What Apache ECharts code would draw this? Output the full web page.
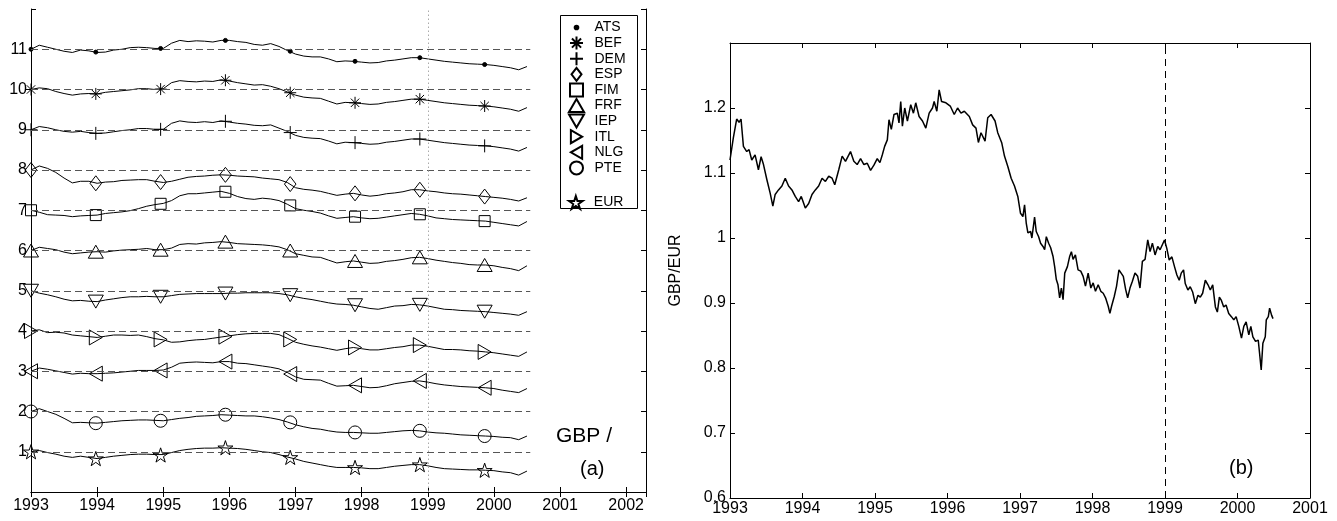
<!DOCTYPE html>
<html>
<head>
<meta charset="utf-8">
<script src="https://cdn.jsdelivr.net/npm/echarts@6/dist/echarts.min.js"></script>
<style>
  html, body { margin: 0; padding: 0; background: #fff; }
  #chart { width: 1337px; height: 521px; }
</style>
</head>
<body>
<div id="chart"></div>
<script>
// ---- data ----
const leftYears = [1993,1993.125,1993.25,1993.375,1993.5,1993.625,1993.75,1993.875,
  1994,1994.125,1994.25,1994.375,1994.5,1994.625,1994.75,1994.875,
  1995,1995.125,1995.25,1995.375,1995.5,1995.625,1995.75,1995.875,
  1996,1996.125,1996.25,1996.375,1996.5,1996.625,1996.75,1996.875,
  1997,1997.125,1997.25,1997.375,1997.5,1997.625,1997.75,1997.875,
  1998,1998.125,1998.25,1998.375,1998.5,1998.625,1998.75,1998.875,
  1999,1999.125,1999.25,1999.375,1999.5,1999.625,1999.75,1999.875,
  2000,2000.125,2000.25,2000.375,2000.5];

const ats = [11.00,11.10,11.05,11.00,10.95,10.92,10.98,10.96,
  10.92,10.93,10.98,11.00,11.04,11.05,11.04,11.02,
  11.02,11.15,11.22,11.19,11.21,11.20,11.18,11.22,
  11.22,11.19,11.17,11.12,11.10,11.14,11.07,10.97,
  10.88,10.83,10.81,10.81,10.76,10.69,10.71,10.70,
  10.68,10.66,10.67,10.71,10.73,10.76,10.79,10.79,
  10.76,10.73,10.70,10.68,10.66,10.64,10.63,10.62,
  10.60,10.57,10.54,10.49,10.57];
const bef = [10.00,10.04,10.02,9.95,9.90,9.86,9.89,9.90,
  9.89,9.93,9.95,9.97,9.99,10.02,10.02,10.00,
  10.02,10.17,10.22,10.20,10.19,10.21,10.20,10.24,
  10.21,10.17,10.14,10.11,10.12,10.08,10.02,9.94,
  9.86,9.81,9.79,9.78,9.71,9.64,9.68,9.67,
  9.65,9.63,9.64,9.68,9.70,9.73,9.76,9.76,
  9.73,9.70,9.67,9.65,9.63,9.61,9.60,9.59,
  9.57,9.54,9.51,9.46,9.55];
const dem = [9.00,9.08,9.05,9.00,8.96,8.94,8.96,8.93,
  8.91,8.92,8.95,8.98,9.00,9.03,9.03,9.01,
  9.01,9.16,9.22,9.19,9.18,9.20,9.18,9.22,
  9.19,9.16,9.14,9.11,9.10,9.12,9.04,8.96,
  8.86,8.81,8.79,8.78,8.72,8.65,8.69,8.68,
  8.66,8.64,8.65,8.69,8.71,8.74,8.77,8.77,
  8.74,8.71,8.68,8.66,8.64,8.62,8.61,8.60,
  8.58,8.55,8.52,8.47,8.56];
const esp = [8.00,8.10,8.04,7.94,7.80,7.68,7.72,7.72,
  7.67,7.70,7.71,7.74,7.75,7.76,7.76,7.72,
  7.69,7.72,7.77,7.82,7.84,7.85,7.87,7.88,
  7.87,7.85,7.84,7.83,7.80,7.78,7.76,7.69,
  7.56,7.52,7.50,7.47,7.42,7.37,7.40,7.42,
  7.38,7.35,7.37,7.41,7.43,7.46,7.51,7.51,
  7.48,7.46,7.43,7.41,7.40,7.38,7.36,7.34,
  7.32,7.30,7.27,7.23,7.31];
const fim = [7.00,6.95,6.89,6.88,6.87,6.84,6.86,6.87,
  6.88,6.92,6.94,6.96,6.99,7.04,7.10,7.14,
  7.17,7.24,7.36,7.41,7.41,7.43,7.45,7.47,
  7.42,7.34,7.29,7.27,7.30,7.28,7.24,7.15,
  7.04,7.00,6.97,6.93,6.86,6.80,6.82,6.84,
  6.81,6.79,6.80,6.83,6.86,6.89,6.92,6.90,
  6.86,6.81,6.79,6.77,6.76,6.75,6.74,6.73,
  6.70,6.67,6.64,6.61,6.72];
const frf = [6.00,6.08,6.05,6.02,5.96,5.92,5.94,5.96,
  5.97,5.96,5.99,6.01,6.02,6.03,6.05,6.02,
  6.02,6.06,6.15,6.17,6.16,6.19,6.20,6.22,
  6.20,6.17,6.16,6.15,6.14,6.12,6.09,6.02,
  5.92,5.88,5.84,5.83,5.76,5.69,5.72,5.74,
  5.71,5.68,5.69,5.73,5.75,5.78,5.82,5.83,
  5.80,5.76,5.73,5.70,5.68,5.65,5.64,5.64,
  5.62,5.58,5.55,5.50,5.62];
const iep = [5.00,4.94,4.90,4.85,4.79,4.75,4.76,4.74,
  4.73,4.77,4.80,4.83,4.85,4.85,4.86,4.85,
  4.85,4.88,4.91,4.92,4.93,4.93,4.93,4.93,
  4.94,4.94,4.95,4.95,4.95,4.95,4.93,4.90,
  4.85,4.81,4.78,4.74,4.70,4.67,4.66,4.64,
  4.60,4.56,4.54,4.58,4.62,4.63,4.66,4.65,
  4.62,4.58,4.54,4.53,4.51,4.50,4.49,4.48,
  4.46,4.44,4.42,4.39,4.48];
const itl = [4.00,4.03,3.96,3.97,3.95,3.90,3.88,3.86,
  3.84,3.87,3.90,3.90,3.89,3.90,3.86,3.81,
  3.78,3.72,3.73,3.76,3.78,3.79,3.82,3.85,
  3.88,3.91,3.93,3.94,3.94,3.94,3.91,3.82,
  3.72,3.67,3.63,3.60,3.56,3.52,3.56,3.59,
  3.56,3.53,3.53,3.56,3.59,3.61,3.65,3.65,
  3.62,3.58,3.54,3.54,3.53,3.51,3.50,3.48,
  3.46,3.43,3.40,3.37,3.48];
const nlg = [3.00,3.08,3.05,3.01,2.97,2.93,2.95,2.94,
  2.94,2.95,2.96,2.98,3.00,3.02,3.02,3.02,
  3.03,3.10,3.20,3.22,3.23,3.22,3.21,3.24,
  3.24,3.20,3.19,3.16,3.13,3.10,3.06,2.97,
  2.86,2.80,2.79,2.78,2.70,2.63,2.64,2.65,
  2.62,2.59,2.60,2.64,2.69,2.72,2.75,2.76,
  2.73,2.69,2.66,2.64,2.62,2.61,2.60,2.59,
  2.57,2.53,2.50,2.47,2.57];
const pte = [2.00,2.07,2.00,1.93,1.83,1.72,1.73,1.72,
  1.71,1.73,1.75,1.77,1.78,1.79,1.79,1.78,
  1.77,1.80,1.83,1.85,1.88,1.89,1.90,1.92,
  1.91,1.90,1.89,1.89,1.87,1.84,1.80,1.74,
  1.67,1.62,1.58,1.56,1.52,1.49,1.48,1.48,
  1.47,1.46,1.46,1.48,1.50,1.52,1.53,1.52,
  1.49,1.47,1.46,1.44,1.42,1.41,1.40,1.39,
  1.38,1.36,1.35,1.30,1.39];
const eur = [1.00,1.03,0.98,0.94,0.89,0.86,0.89,0.86,
  0.83,0.86,0.89,0.91,0.93,0.94,0.94,0.93,
  0.93,0.98,1.03,1.06,1.08,1.09,1.09,1.10,
  1.09,1.08,1.06,1.03,1.00,0.98,0.93,0.87,
  0.82,0.76,0.72,0.68,0.64,0.61,0.61,0.61,
  0.60,0.58,0.58,0.61,0.64,0.66,0.68,0.68,
  0.65,0.61,0.58,0.57,0.56,0.55,0.55,0.54,
  0.53,0.50,0.48,0.42,0.52];

// marker positions along each curve
const markerYears = [1993.0, 1993.98, 1994.96, 1995.94, 1996.92, 1997.9, 1998.88, 1999.86];
const atsMarks = [11.0, 10.93, 11.02, 11.22, 10.95, 10.70, 10.79, 10.62];
const befMarks = [10.0, 9.89, 10.01, 10.23, 9.92, 9.67, 9.76, 9.59];
const demMarks = [9.0, 8.91, 9.01, 9.21, 8.93, 8.68, 8.77, 8.60];
const espMarks = [8.0, 7.67, 7.70, 7.88, 7.65, 7.42, 7.51, 7.34];
const fimMarks = [7.0, 6.88, 7.16, 7.46, 7.12, 6.84, 6.90, 6.73];
const frfMarks = [6.0, 5.97, 6.02, 6.22, 6.00, 5.74, 5.83, 5.64];
const iepMarks = [5.0, 4.73, 4.85, 4.93, 4.89, 4.64, 4.65, 4.48];
const itlMarks = [4.0, 3.84, 3.79, 3.86, 3.79, 3.59, 3.65, 3.48];
const nlgMarks = [3.0, 2.94, 3.02, 3.24, 2.93, 2.65, 2.76, 2.59];
const pteMarks = [2.0, 1.71, 1.77, 1.92, 1.73, 1.48, 1.52, 1.39];
const eurMarks = [1.0, 0.83, 0.92, 1.10, 0.86, 0.61, 0.68, 0.54];

const currencies = ['ATS','BEF','DEM','ESP','FIM','FRF','IEP','ITL','NLG','PTE','EUR'];
const leftCurves = [ats, bef, dem, esp, fim, frf, iep, itl, nlg, pte, eur];
const leftMarks = [atsMarks, befMarks, demMarks, espMarks, fimMarks, frfMarks, iepMarks, itlMarks, nlgMarks, pteMarks, eurMarks];
const baseLevels = [1,2,3,4,5,6,7,8,9,10,11];
const euroStart = 1999;

// GBP/EUR daily rate (b)
const gbpEurYears = [1993.000,1993.046,1993.092,1993.125,1993.152,1993.185,1993.231,1993.263,1993.300,1993.346,
  1993.392,1993.429,1993.462,1993.508,1993.554,1993.591,1993.623,1993.669,1993.716,1993.762,
  1993.808,1993.854,1993.900,1993.946,1993.983,1994.039,1994.085,1994.131,1994.177,1994.223,
  1994.270,1994.316,1994.362,1994.408,1994.445,1994.500,1994.547,1994.593,1994.662,1994.708,
  1994.754,1994.801,1994.847,1994.893,1994.939,1994.985,1995.031,1995.068,1995.101,1995.133,
  1995.170,1995.193,1995.225,1995.262,1995.308,1995.331,1995.355,1995.378,1995.410,1995.447,
  1995.493,1995.530,1995.562,1995.608,1995.655,1995.701,1995.747,1995.793,1995.816,1995.853,
  1995.885,1995.918,1995.978,1996.038,1996.093,1996.139,1996.186,1996.232,1996.301,1996.347,
  1996.393,1996.426,1996.462,1996.518,1996.555,1996.601,1996.656,1996.693,1996.749,1996.786,
  1996.832,1996.878,1996.924,1996.970,1997.007,1997.040,1997.063,1997.086,1997.109,1997.146,
  1997.164,1997.201,1997.224,1997.257,1997.284,1997.317,1997.340,1997.363,1997.395,1997.423,
  1997.455,1997.478,1997.501,1997.524,1997.547,1997.571,1997.594,1997.617,1997.654,1997.686,
  1997.709,1997.732,1997.764,1997.801,1997.838,1997.871,1997.903,1997.940,1997.977,1998.009,
  1998.041,1998.078,1998.115,1998.148,1998.180,1998.217,1998.240,1998.263,1998.300,1998.332,
  1998.365,1998.392,1998.425,1998.457,1998.485,1998.517,1998.549,1998.586,1998.623,1998.655,
  1998.688,1998.725,1998.762,1998.794,1998.826,1998.863,1998.900,1998.932,1998.965,1998.993,
  1999.025,1999.058,1999.095,1999.131,1999.164,1999.196,1999.224,1999.256,1999.279,1999.316,
  1999.348,1999.381,1999.418,1999.455,1999.487,1999.519,1999.556,1999.593,1999.625,1999.658,
  1999.695,1999.722,1999.750,1999.778,1999.810,1999.842,1999.879,1999.916,1999.949,1999.981,
  2000.018,2000.055,2000.087,2000.119,2000.156,2000.184,2000.212,2000.249,2000.286,2000.304,
  2000.327,2000.350,2000.383,2000.397,2000.425,2000.443,2000.471,2000.490];
const gbpEurRates = [1.120,1.154,1.183,1.178,1.183,1.141,1.133,1.136,1.120,1.128,
  1.105,1.125,1.113,1.090,1.069,1.049,1.067,1.074,1.080,1.092,
  1.080,1.074,1.064,1.056,1.064,1.046,1.053,1.067,1.074,1.080,
  1.092,1.087,1.095,1.092,1.082,1.105,1.126,1.118,1.133,1.118,
  1.113,1.122,1.113,1.115,1.104,1.112,1.122,1.116,1.128,1.141,
  1.151,1.182,1.167,1.190,1.192,1.177,1.210,1.172,1.200,1.180,
  1.205,1.192,1.208,1.187,1.180,1.169,1.192,1.200,1.210,1.195,
  1.228,1.210,1.208,1.203,1.190,1.200,1.192,1.195,1.187,1.174,
  1.169,1.147,1.162,1.149,1.185,1.190,1.180,1.162,1.146,1.126,
  1.110,1.092,1.080,1.064,1.038,1.033,1.051,1.023,1.008,1.010,
  1.000,1.032,1.010,1.002,0.992,0.987,0.982,1.002,0.992,0.985,
  0.972,0.956,0.936,0.928,0.908,0.923,0.905,0.946,0.956,0.972,
  0.979,0.967,0.974,0.951,0.949,0.941,0.926,0.946,0.923,0.931,
  0.918,0.928,0.918,0.915,0.908,0.895,0.884,0.895,0.910,0.926,
  0.951,0.954,0.941,0.921,0.908,0.923,0.933,0.946,0.941,0.923,
  0.964,0.967,0.997,0.979,0.992,0.974,0.987,0.982,0.990,0.997,
  0.984,0.966,0.971,0.956,0.943,0.935,0.946,0.951,0.930,0.920,
  0.925,0.917,0.899,0.912,0.909,0.915,0.935,0.928,0.920,0.928,
  0.894,0.886,0.909,0.904,0.894,0.897,0.884,0.879,0.874,0.879,
  0.864,0.846,0.864,0.871,0.851,0.864,0.848,0.841,0.843,0.823,
  0.797,0.838,0.848,0.874,0.879,0.892,0.881,0.876];

// ---- styling ----
const FONT = '"Liberation Sans", Arial, Helvetica, sans-serif';
const HOLLOW = 'rgba(0,0,0,0)';
const markerStyles = {
  ATS: { symbol: 'circle', size: 4, fill: '#000',
         icon: 'path://M0,0M10,10M3.6,5a1.4,1.4 0 1,0 2.8,0a1.4,1.4 0 1,0 -2.8,0' },
  BEF: { symbol: 'path://M5,0L5,10M0,5L10,5M1.5,1.5L8.5,8.5M8.5,1.5L1.5,8.5', size: 12, fill: HOLLOW },
  DEM: { symbol: 'path://M5,0L5,10M0,5L10,5', size: 13, fill: HOLLOW },
  ESP: { symbol: 'path://M5,0L10,6.5L5,13L0,6.5Z', size: 15, fill: HOLLOW },
  FIM: { symbol: 'path://M0,0L10,0L10,10L0,10Z', size: 11, fill: HOLLOW },
  FRF: { symbol: 'path://M5,0L10,8.66L0,8.66Z', size: 15, fill: HOLLOW },
  IEP: { symbol: 'path://M0,0L10,0L5,8.66Z', size: 15, fill: HOLLOW },
  ITL: { symbol: 'path://M0,0L8.66,5L0,10Z', size: 15, fill: HOLLOW },
  NLG: { symbol: 'path://M8.66,0L0,5L8.66,10Z', size: 15, fill: HOLLOW },
  PTE: { symbol: 'circle', size: 13, fill: HOLLOW },
  EUR: { symbol: 'path://M10,0L12.25,6.91L19.51,6.91L13.63,11.18L15.88,18.09L10,13.82L4.12,18.09L6.37,11.18L0.49,6.91L7.75,6.91Z', size: 15, fill: HOLLOW }
};

const chart = echarts.init(document.getElementById('chart'));

const tickStyle = { inside: true, length: 5, lineStyle: { color: '#000', width: 1 } };
const lineAxis = { lineStyle: { color: '#000', width: 1 } };
const labelStyle = { color: '#000', fontSize: 16, fontFamily: FONT };

function xAxisPair(gridIndex, min, max, margin) {
  return [
    { type: 'value', gridIndex: gridIndex, position: 'bottom', min: min, max: max, interval: 1,
      axisLine: lineAxis, axisTick: tickStyle, splitLine: { show: false },
      axisLabel: Object.assign({ margin: margin, formatter: v => Number.isInteger(v) ? String(v) : '' }, labelStyle) },
    { type: 'value', gridIndex: gridIndex, position: 'top', min: min, max: max, interval: 1,
      axisLine: lineAxis, axisTick: tickStyle, splitLine: { show: false }, axisLabel: { show: false } }
  ];
}

const series = [];

currencies.forEach((name, i) => {
  const curve = leftCurves[i];
  const line = {
    type: 'line', xAxisIndex: 0, yAxisIndex: 0, silent: true,
    showSymbol: false, symbol: 'none',
    lineStyle: { color: '#000', width: 1 },
    data: leftYears.map((x, k) => [x, curve[k]]),
    z: 2
  };
  if (i === 0) {
    const lastYear = leftYears[leftYears.length - 1] + 0.05;
    line.markLine = {
      silent: true, symbol: 'none', label: { show: false },
      lineStyle: { type: [7, 4], color: '#555', width: 1 },
      data: baseLevels.map(b => [{ coord: [leftYears[0], b] }, { coord: [lastYear, b] }])
        .concat([[{ coord: [euroStart, 0], lineStyle: { type: [1.5, 2.5], color: '#aaa', width: 1 } },
                  { coord: [euroStart, 12] }]])
    };
  }
  series.push(line);

  const st = markerStyles[name];
  const marks = leftMarks[i];
  series.push({
    type: 'scatter', name: name, xAxisIndex: 0, yAxisIndex: 0, silent: true,
    symbol: st.symbol, symbolSize: st.size, symbolKeepAspect: true,
    itemStyle: { color: st.fill, borderColor: '#000', borderWidth: 1, opacity: 1 },
    data: markerYears.map((x, k) => [x, marks[k]]),
    z: 3
  });
});

series.push({
  type: 'line', xAxisIndex: 2, yAxisIndex: 2, silent: true,
  showSymbol: false, symbol: 'none',
  lineStyle: { color: '#000', width: 1.5 },
  data: gbpEurYears.map((x, k) => [x, gbpEurRates[k]]),
  markLine: {
    silent: true, symbol: 'none', label: { show: false },
    lineStyle: { type: [7, 5], color: '#000', width: 1 },
    data: [[{ coord: [euroStart, 0.6] }, { coord: [euroStart, 1.3] }]]
  }
});

const legendText = { fontSize: 14, lineHeight: 14, color: '#000', fontFamily: FONT, padding: [0, 0, 0, 2] };
const legendData = currencies.slice(0, 10).map(n => markerStyles[n].icon ? { name: n, icon: markerStyles[n].icon } : { name: n });

chart.setOption({
  animation: false,
  backgroundColor: '#fff',
  grid: [
    { left: 31, top: 9, width: 615, height: 483, show: false },
    { left: 730, top: 43, width: 580, height: 455, show: false }
  ],
  xAxis: xAxisPair(0, 1993, 2002.3, 6).concat(xAxisPair(1, 1993, 2001, 3)),
  yAxis: [
    { type: 'value', gridIndex: 0, position: 'left', min: 0, max: 12, interval: 1,
      axisLine: lineAxis, axisTick: tickStyle, splitLine: { show: false },
      axisLabel: Object.assign({ margin: 4, formatter: v => (v >= 1 && v <= 11) ? String(v) : '' }, labelStyle) },
    { type: 'value', gridIndex: 0, position: 'right', min: 0, max: 12, interval: 1,
      axisLine: lineAxis, axisTick: tickStyle, splitLine: { show: false }, axisLabel: { show: false } },
    { type: 'value', gridIndex: 1, position: 'left', min: 0.6, max: 1.3, interval: 0.1,
      name: 'GBP/EUR', nameLocation: 'middle', nameGap: 46, nameRotate: 90,
      nameTextStyle: { color: '#000', fontSize: 16, fontFamily: FONT },
      axisLine: lineAxis, axisTick: tickStyle, splitLine: { show: false },
      axisLabel: Object.assign({ margin: 4, formatter: v => v > 1.25 ? '' : String(Math.round(v * 10) / 10) }, labelStyle) },
    { type: 'value', gridIndex: 1, position: 'right', min: 0.6, max: 1.3, interval: 0.1,
      axisLine: lineAxis, axisTick: tickStyle, splitLine: { show: false }, axisLabel: { show: false } }
  ],
  legend: [
    { data: legendData, orient: 'vertical', left: 568, top: 20, padding: 0, itemWidth: 22, itemHeight: 13,
      itemGap: 0.6, selectedMode: false, textStyle: legendText, z: 10 },
    { data: ['EUR'], orient: 'vertical', left: 568, top: 195, padding: 0, itemWidth: 22, itemHeight: 13,
      selectedMode: false, textStyle: legendText, z: 10 }
  ],
  graphic: [
    { type: 'rect', shape: { x: 560.5, y: 15.5, width: 77, height: 193 },
      style: { fill: '#fff', stroke: '#000', lineWidth: 1 }, z: 5, silent: true },
    { type: 'text', x: 556, y: 436, silent: true,
      style: { text: 'GBP /', fontSize: 21, fontFamily: FONT, fill: '#000', verticalAlign: 'middle' } },
    { type: 'text', x: 580, y: 469, silent: true,
      style: { text: '(a)', fontSize: 20, fontFamily: FONT, fill: '#000', verticalAlign: 'middle' } },
    { type: 'text', x: 1229, y: 468, silent: true,
      style: { text: '(b)', fontSize: 20, fontFamily: FONT, fill: '#000', verticalAlign: 'middle' } }
  ],
  series: series
});
</script>
</body>
</html>
